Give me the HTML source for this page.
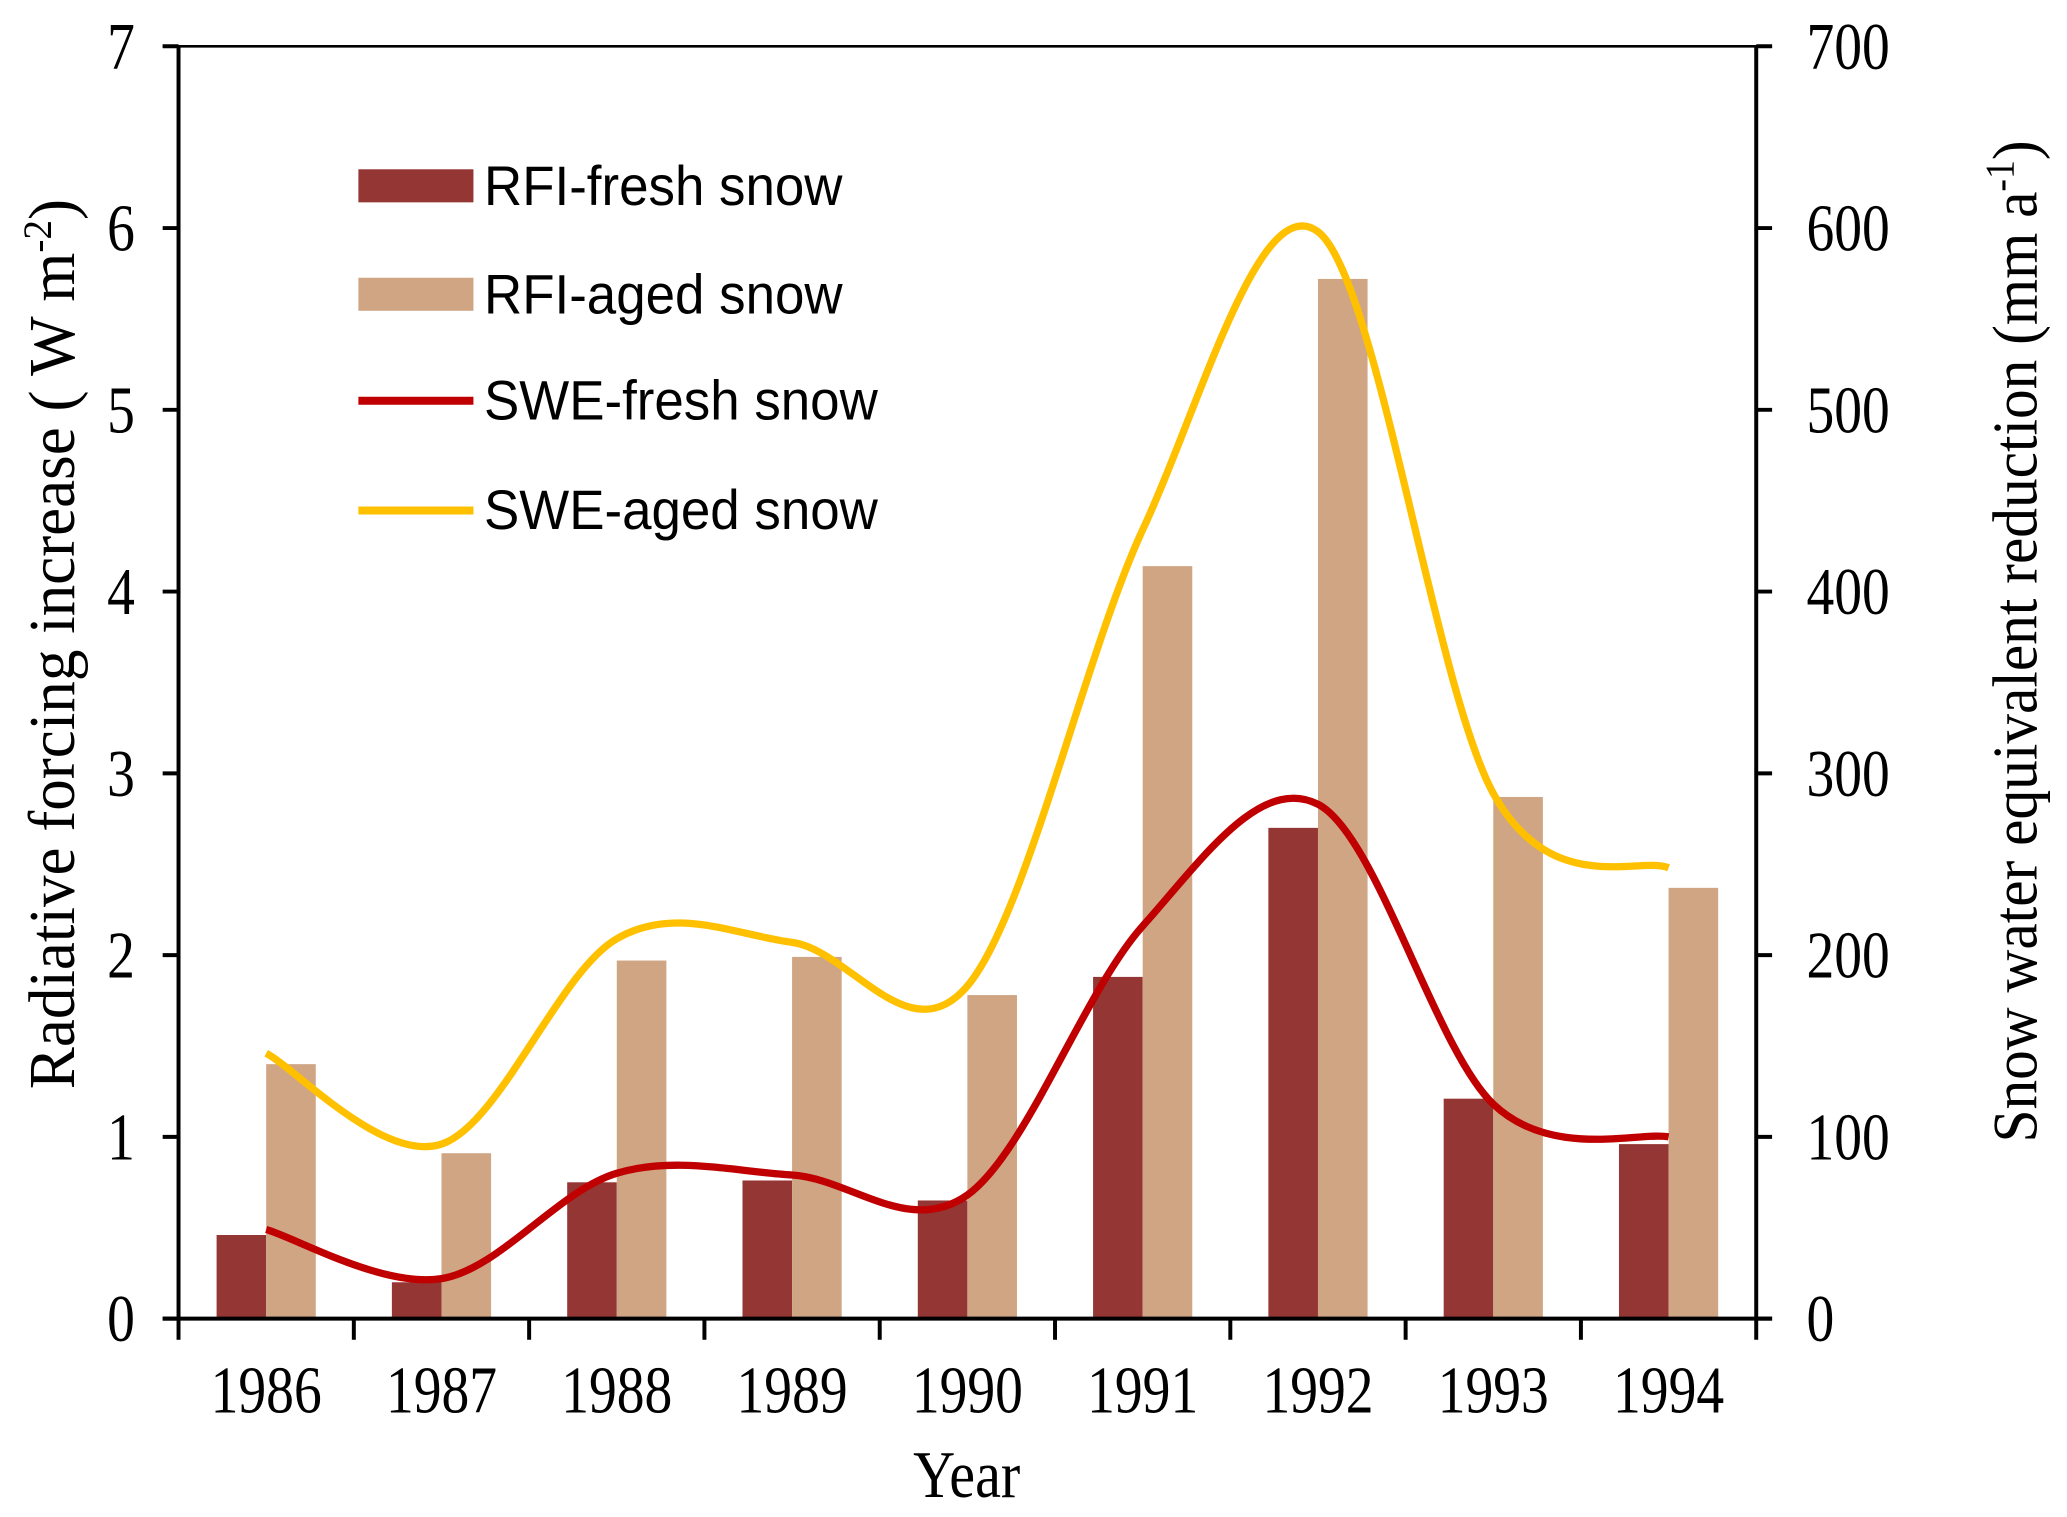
<!DOCTYPE html>
<html><head><meta charset="utf-8">
<style>
html,body{margin:0;padding:0;background:#fff;}
svg{display:block;}
text{font-family:"Liberation Serif",serif;fill:#000;}
.leg{font-family:"Liberation Sans",sans-serif;font-size:40px;}
</style></head>
<body>
<svg id="chart" width="2067" height="1517" viewBox="0 0 1563 1147" preserveAspectRatio="none" xmlns="http://www.w3.org/2000/svg">
<g id="bars"></g>
<g id="lines"></g>
<g id="axes"></g>
<text transform="translate(731,1132) scale(1,1.15)" text-anchor="middle" font-size="44">Year</text>
<text transform="translate(56,487) rotate(-90) scale(1.06,1.1)" text-anchor="middle" font-size="45">Radiative forcing  increase ( W m<tspan font-size="28" dy="-16">-2</tspan><tspan dy="16">)</tspan></text>
<text transform="translate(1540,485) rotate(-90) scale(1.02,1.1)" text-anchor="middle" font-size="44">Snow water equivalent reduction (mm a<tspan font-size="28" dy="-16">-1</tspan><tspan dy="16">)</tspan></text>
<g>
<rect x="271" y="128" width="87" height="25" fill="#943634"/>
<text class="leg" transform="translate(366,155) scale(1,1.05)">RFI-fresh snow</text>
<rect x="271" y="210" width="87" height="25" fill="#cfa584"/>
<text class="leg" transform="translate(366,237) scale(1,1.05)">RFI-aged snow</text>
<line x1="271" y1="303" x2="358" y2="303" stroke="#c00000" stroke-width="6"/>
<text class="leg" transform="translate(366,317) scale(1,1.05)">SWE-fresh snow</text>
<line x1="271" y1="386" x2="358" y2="386" stroke="#ffc000" stroke-width="6"/>
<text class="leg" transform="translate(366,400) scale(1,1.05)">SWE-aged snow</text>
</g>
</svg>
<script>
const years = ["1986","1987","1988","1989","1990","1991","1992","1993","1994"];
const rfiFresh = [0.46,0.20,0.75,0.76,0.65,1.88,2.70,1.21,0.96];
const rfiAged = [1.40,0.91,1.97,1.99,1.78,4.14,5.72,2.87,2.37];
const sweFresh = [49,22,80,79,68,216,283,118,100];
const sweAged = [146,96,209,207,183,434,598,289,248];
const leftTicks = [0,1,2,3,4,5,6,7];
const rightTicks = [0,100,200,300,400,500,600,700];

const NS="http://www.w3.org/2000/svg";
const X0=135,X1=1328,Y0=997,Y1=35;
const slot=(X1-X0)/years.length;
const xC=i=>X0+slot*(i+0.5);
const yL=v=>Y0-(v/7)*(Y0-Y1);
const yR=v=>Y0-(v/700)*(Y0-Y1);
function mk(tag,attrs,parent){const e=document.createElementNS(NS,tag);for(const k in attrs)e.setAttribute(k,attrs[k]);parent.appendChild(e);return e;}
const bars=document.getElementById('bars'),lines=document.getElementById('lines'),axes=document.getElementById('axes');
const bw=37.5;
years.forEach((y,i)=>{
  let r=mk('rect',{x:xC(i)-bw,y:yL(rfiFresh[i]),width:bw,height:Y0-yL(rfiFresh[i]),fill:'#943634'},bars);
  
  
  let a=mk('rect',{x:xC(i),y:yL(rfiAged[i]),width:bw,height:Y0-yL(rfiAged[i]),fill:'#cfa584'},bars);
  
  
});
function smooth(vals){
  const p=vals.map((v,i)=>[xC(i),yR(v)]);
  let d='M'+p[0][0]+','+p[0][1];
  for(let i=0;i<p.length-1;i++){
    const p0=p[i-1]||p[i],p1=p[i],p2=p[i+1],p3=p[i+2]||p2;
    const c1=[p1[0]+(p2[0]-p0[0])/6,p1[1]+(p2[1]-p0[1])/6];
    const c2=[p2[0]-(p3[0]-p1[0])/6,p2[1]-(p3[1]-p1[1])/6];
    d+=' C'+c1+' '+c2+' '+p2;
  }
  return d;
}
let la=mk('path',{d:smooth(sweAged),fill:'none',stroke:'#ffc000','stroke-width':5.5},lines);


let lf=mk('path',{d:smooth(sweFresh),fill:'none',stroke:'#c00000','stroke-width':5.5},lines);


mk('line',{x1:X0,y1:Y1,x2:X0,y2:Y0,stroke:'#000','stroke-width':3},axes);
mk('line',{x1:X1,y1:Y1,x2:X1,y2:Y0,stroke:'#000','stroke-width':3},axes);
mk('line',{x1:X0-12,y1:Y0,x2:X1+12,y2:Y0,stroke:'#000','stroke-width':3},axes);
mk('line',{x1:X0-12,y1:Y1,x2:X1+12,y2:Y1,stroke:'#000','stroke-width':2},axes);
function lbl(x,y,anchor){
  return mk('text',{transform:'translate('+x+','+y+') scale(1,1.2)','text-anchor':anchor,'font-size':42},axes);
}
leftTicks.forEach(v=>{
  mk('line',{x1:X0-12,y1:yL(v),x2:X0,y2:yL(v),stroke:'#000','stroke-width':3},axes);
  let t=lbl(102,yL(v)+17,'end');t.textContent=v;
  
  
});
rightTicks.forEach(v=>{
  mk('line',{x1:X1,y1:yR(v),x2:X1+12,y2:yR(v),stroke:'#000','stroke-width':3},axes);
  let t=lbl(X1+38,yR(v)+17,'start');t.textContent=v;
  
  
});
for(let i=0;i<=years.length;i++){
  mk('line',{x1:X0+slot*i,y1:Y0,x2:X0+slot*i,y2:Y0+16,stroke:'#000','stroke-width':3},axes);
}
years.forEach((y,i)=>{
  let t=lbl(xC(i),1068,'middle');t.textContent=y;
  
  
});
</script>
</body></html>
